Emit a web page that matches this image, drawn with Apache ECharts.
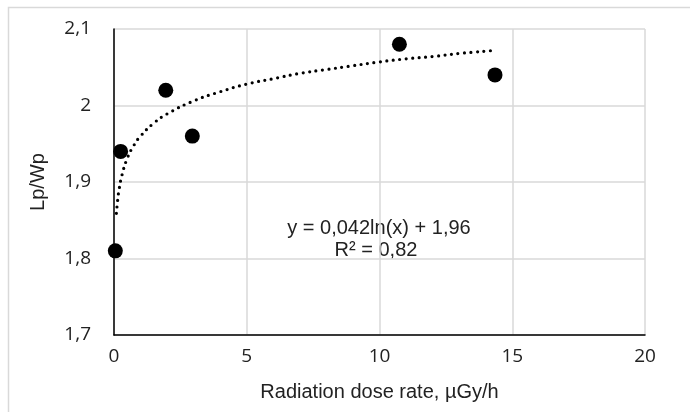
<!DOCTYPE html>
<html><head><meta charset="utf-8">
<script src="https://cdn.jsdelivr.net/npm/echarts@6/dist/echarts.min.js"></script>
<style>html,body{margin:0;padding:0;background:#fff}#c{width:690px;height:412px}</style>
</head><body><div id="c"></div>
<script>
// Measured points (dose rate µGy/h, Lp/Wp)
const doseRate = [0.05, 0.25, 1.95, 2.95, 10.75, 14.35];
const lpwp = [1.81, 1.94, 2.02, 1.96, 2.08, 2.04];
// Logarithmic trendline
const trendX = [0.09, 0.15, 0.2, 0.3, 0.5, 0.75, 1, 1.5, 2, 3, 4, 5, 6, 7, 8, 9, 10, 11, 12, 13, 14.35];
const trendY = [1.859, 1.880, 1.892, 1.909, 1.931, 1.948, 1.960, 1.977, 1.989, 2.006, 2.018, 2.028, 2.035, 2.042, 2.047, 2.052, 2.057, 2.061, 2.064, 2.068, 2.072];
const xTicks = {min: 0, max: 20, interval: 5};
const yTicks = {min: 1.7, max: 2.1, interval: 0.1};
const equationText = 'y = 0,042ln(x) + 1,96';
const r2Text = 'R² = 0,82';
const xTitle = 'Radiation dose rate, µGy/h';
const yTitle = 'Lp/Wp';

const fmt = v => String(Math.round(v * 10) / 10).replace('.', ',');
const textFont = '"Liberation Sans", Arial, sans-serif';
const chart = echarts.init(document.getElementById('c'), null, {renderer: 'canvas'});
chart.setOption({
  animation: false,
  backgroundColor: '#fff',
  grid: {left: 114, right: 45, top: 29, bottom: 77},
  graphic: [
    {type: 'rect', shape: {x: 8.5, y: 7.5, width: 720, height: 440}, style: {fill: 'none', stroke: '#d9d9d9', lineWidth: 1.5}, z: -10},
    {type: 'text', style: {text: equationText, x: 379, y: 228, align: 'center', verticalAlign: 'middle', font: '20px ' + textFont, fill: '#222'}},
    {type: 'text', style: {text: r2Text, x: 376, y: 250, align: 'center', verticalAlign: 'middle', font: '20px ' + textFont, fill: '#222'}}
  ],
  xAxis: {
    type: 'value', min: xTicks.min, max: xTicks.max, interval: xTicks.interval,
    name: xTitle, nameLocation: 'middle', nameGap: 47,
    nameTextStyle: {fontFamily: textFont, fontSize: 20, color: '#222'},
    axisLine: {show: true, onZero: false, lineStyle: {color: '#000', width: 1.5}},
    axisTick: {show: false},
    axisLabel: {margin: 12, fontFamily: '"Open Sans", sans-serif', fontSize: 19, color: '#222', formatter: fmt},
    splitLine: {show: true, lineStyle: {color: '#d9d9d9', width: 1.5}}
  },
  yAxis: {
    type: 'value', min: yTicks.min, max: yTicks.max, interval: yTicks.interval,
    name: yTitle, nameLocation: 'middle', nameGap: 66, nameRotate: 90,
    nameTextStyle: {fontFamily: textFont, fontSize: 20, color: '#222'},
    axisLine: {show: true, onZero: false, lineStyle: {color: '#000', width: 1.5}},
    axisTick: {show: false},
    axisLabel: {margin: 23, fontFamily: '"Open Sans", sans-serif', fontSize: 19, color: '#222', formatter: fmt},
    splitLine: {show: true, lineStyle: {color: '#d9d9d9', width: 1.5}}
  },
  series: [
    {
      type: 'line', data: trendX.map((x, i) => [x, trendY[i]]),
      smooth: true, symbol: 'none', silent: true, z: 2,
      lineStyle: {color: '#000', width: 3.2, type: [0, 6.5], cap: 'round'}
    },
    {
      type: 'scatter', data: doseRate.map((x, i) => [x, lpwp[i]]),
      symbol: 'circle', symbolSize: 15, z: 3,
      itemStyle: {color: '#000', opacity: 1}
    }
  ]
});
</script></body></html>
